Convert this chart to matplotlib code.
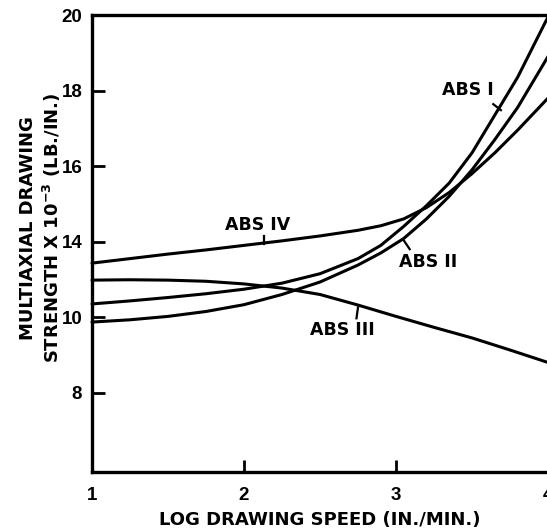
import matplotlib as mpl
mpl.use('Agg')
import matplotlib.pyplot as plt

plt.rcParams['font.family'] = ['DejaVu Sans']
plt.rcParams['font.weight'] = 'bold'
plt.rcParams['mathtext.default'] = 'bf'

# log drawing speed (x) and multiaxial drawing strength (y)
speed_i   = [1.0, 1.25, 1.5, 1.75, 2.0, 2.25, 2.5, 2.75, 2.9, 3.05, 3.2, 3.35, 3.5, 3.65, 3.8, 4.0]
abs_i     = [12.35, 12.43, 12.52, 12.62, 12.74, 12.9, 13.15, 13.55, 13.9, 14.4, 14.95, 15.55, 16.35, 17.35, 18.35, 19.95]

speed_ii  = [1.0, 1.25, 1.5, 1.75, 2.0, 2.25, 2.5, 2.75, 2.9, 3.05, 3.2, 3.35, 3.5, 3.65, 3.8, 4.0]
abs_ii    = [11.87, 11.93, 12.02, 12.15, 12.33, 12.6, 12.93, 13.38, 13.7, 14.08, 14.6, 15.2, 15.9, 16.7, 17.55, 18.9]

speed_iii = [1.0, 1.25, 1.5, 1.75, 2.0, 2.25, 2.5, 2.75, 3.0, 3.25, 3.5, 3.75, 4.0]
abs_iii   = [12.98, 12.99, 12.98, 12.95, 12.88, 12.77, 12.6, 12.32, 12.02, 11.73, 11.45, 11.13, 10.8]

speed_iv  = [1.0, 1.25, 1.5, 1.75, 2.0, 2.25, 2.5, 2.75, 2.9, 3.05, 3.2, 3.35, 3.5, 3.65, 3.8, 4.0]
abs_iv    = [13.43, 13.55, 13.67, 13.78, 13.9, 14.02, 14.15, 14.3, 14.42, 14.6, 14.9, 15.3, 15.8, 16.35, 16.95, 17.8]

xticks      = [1, 2, 3, 4]
xticklabels = ['1', '2', '3', '4']
yticks      = [10, 12, 14, 16, 18, 20]
yticklabels = ['8', '10', '14', '16', '18', '20']   # as printed on the original

fig = plt.figure(figsize=(5.47, 5.29), dpi=100)
ax = fig.add_axes([92/547, 57/529, 456/547, 457/529])

for xs, ys in [(speed_i, abs_i), (speed_ii, abs_ii), (speed_iii, abs_iii), (speed_iv, abs_iv)]:
    ax.plot(xs, ys, color='black', lw=2.2, solid_capstyle='round', clip_on=False)

ax.set_xlim(1, 4)
ax.set_ylim(7.9, 20)

for side in ['left', 'bottom', 'top']:
    ax.spines[side].set_linewidth(2.4)
ax.spines['right'].set_visible(False)

ax.set_xticks(xticks)
ax.set_xticklabels(xticklabels)
ax.set_yticks(yticks)
ax.set_yticklabels(yticklabels)
ax.tick_params(axis='both', direction='in', length=9, width=2)
ax.tick_params(axis='x', pad=11)
ax.tick_params(axis='y', pad=7)
for lab in ax.get_xticklabels() + ax.get_yticklabels():
    lab.set_fontfamily('Liberation Sans')
    lab.set_fontsize(13.5)
    lab.set_fontweight('bold')

ax.set_xlabel('LOG DRAWING SPEED (IN./MIN.)', fontsize=13, fontweight='bold', labelpad=5)
fig.text(41/547, 1 - 228/529, 'MULTIAXIAL DRAWING\nSTRENGTH X 10$^{-3}$ (LB./IN.)',
         rotation=90, ha='center', va='center', multialignment='center',
         fontsize=13, fontweight='bold', linespacing=1.2)

# curve labels with short leader ticks
labels = [('ABS I',   3.47, 18.01, (3.64, 17.64), (3.69, 17.48)),
          ('ABS IV',  2.09, 14.44, (2.13, 14.15), (2.13, 13.93)),
          ('ABS II',  3.21, 13.46, (3.05, 14.04), (3.09, 13.80)),
          ('ABS III', 2.65, 11.66, (2.75, 12.26), (2.74, 11.97))]
for txt, tx, ty, p0, p1 in labels:
    ax.text(tx, ty, txt, ha='center', va='center', fontsize=12.5, fontweight='bold')
    ax.plot([p0[0], p1[0]], [p0[1], p1[1]], color='black', lw=1.6)

fig.savefig('out.png', dpi=100)
